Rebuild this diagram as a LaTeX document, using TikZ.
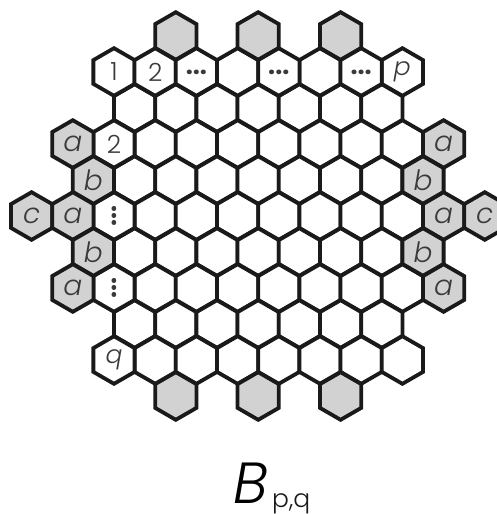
\documentclass[tikz,border=0pt]{standalone}
\usepackage{fontspec}
\setmainfont{Poppins}
\newfontfamily\lightf{Poppins Light}
\usetikzlibrary{shapes.geometric}
\definecolor{hexgray}{HTML}{D2D2D2}
\definecolor{inkc}{HTML}{1A1A1A}
\definecolor{txt}{HTML}{3A3A3A}
\tikzset{
  x=1pt,y=-1pt,
  hexw/.style={regular polygon,regular polygon sides=6,shape border rotate=30,minimum size=47.6pt,inner sep=0pt,outer sep=0pt,draw=inkc,line width=3.8pt,line join=miter,fill=white,text=txt,font=\lightf\fontsize{25}{25}\selectfont},
  hexg/.style={hexw,fill=hexgray},
  ltr/.style={font=\lightf\fontsize{28}{28}\selectfont\itshape},
  dts/.style={font=\fontsize{25}{25}\selectfont\bfseries},
}
\begin{document}
\begin{tikzpicture}
\useasboundingbox (0,0) rectangle (497,514);
% white cells: row / offsets
\foreach \r/\list in {1/{3,5},2/{0.5,1.5,2.5,3.5,4.5,5.5,6.5},3/{1,2,3,4,5,6,7},4/{0.5,1.5,2.5,3.5,4.5,5.5,6.5},5/{1,2,3,4,5,6,7},6/{0.5,1.5,2.5,3.5,4.5,5.5,6.5},7/{1,2,3,4,5,6,7},8/{0.5,1.5,2.5,3.5,4.5,5.5,6.5},9/{1,2,3,4,5,6,7}}{
  \foreach \k in \list {
    \pgfmathsetmacro{\xx}{114+41.2*\k}
    \pgfmathsetmacro{\yy}{36+36*\r}
    \node[hexw] (w\r-\k) at (\xx,\yy) {};
  }
}
% plain grey
\foreach \r/\k in {0/1.5,0/3.5,0/5.5,10/1.5,10/3.5,10/5.5}{
    \pgfmathsetmacro{\xx}{114+41.2*\k}
    \pgfmathsetmacro{\yy}{36+36*\r}
    \node[hexg] (g\r-\k) at (\xx,\yy) {};
}
% labelled white
\foreach \n/\r/\k/\t in {c1/1/0/1,c2/1/1/2,p/1/7/{\itshape p},two/3/0/2,q/9/0/{\itshape q}}{
    \pgfmathsetmacro{\xx}{114+41.2*\k}
    \pgfmathsetmacro{\yy}{36+36*\r}
    \node[hexw] (\n) at (\xx,\yy) {\t};
}
\foreach \n/\r/\k in {d1/1/2,d2/1/4,d3/1/6}{
    \pgfmathsetmacro{\xx}{114+41.2*\k}
    \pgfmathsetmacro{\yy}{36+36*\r}
    \node[hexw,dts] (\n) at (\xx,\yy) {...};
}
\foreach \n/\r/\k in {v1/5/0,v2/7/0}{
    \pgfmathsetmacro{\xx}{114+41.2*\k}
    \pgfmathsetmacro{\yy}{36+36*\r}
    \node[hexw,dts] (\n) at (\xx,\yy) {\rotatebox{90}{...}};
}
% labelled grey
\foreach \n/\r/\k/\t in {a1/3/-1/a,a2/3/8/a,b1/4/-0.5/b,b2/4/7.5/b,c3/5/-2/c,a3/5/-1/a,a4/5/8/a,c4/5/9/c,b3/6/-0.5/b,b4/6/7.5/b,a5/7/-1/a,a6/7/8/a}{
    \pgfmathsetmacro{\xx}{114+41.2*\k}
    \pgfmathsetmacro{\yy}{36+36*\r}
    \node[hexg,ltr] (\n) at (\xx,\yy) {\t};
}
\node[anchor=base west,inner sep=0pt,font=\lightf\fontsize{58}{58}\selectfont\itshape,text=black] (bigB) at (233,503) {B};
\node[anchor=base west,inner sep=0pt,font=\lightf\fontsize{25}{25}\selectfont,text=inkc] (sub) at (272,507) {p,q};
\end{tikzpicture}
\end{document}
